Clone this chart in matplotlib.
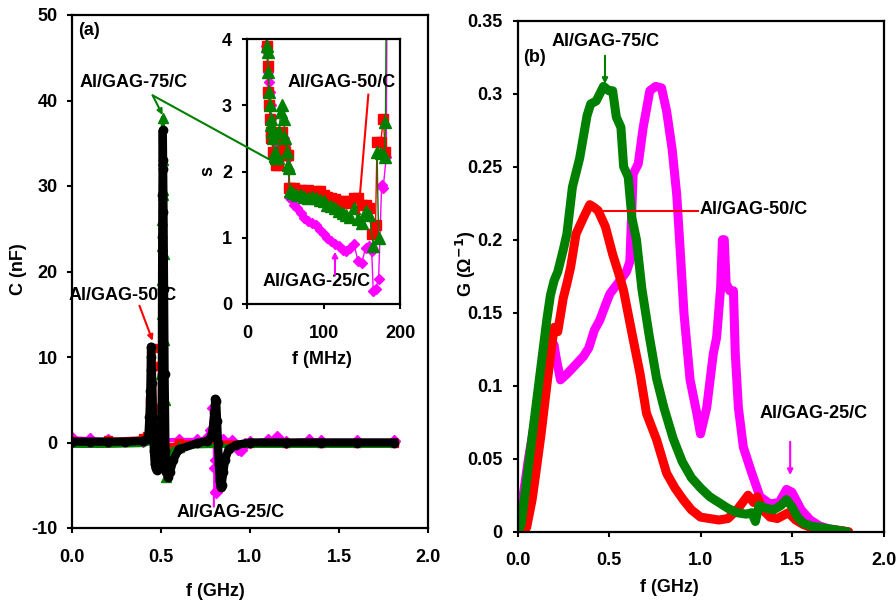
import matplotlib
matplotlib.use("Agg")
from matplotlib import pyplot as plt
from matplotlib.ticker import FuncFormatter, MultipleLocator

plt.rcParams["font.family"] = ["Liberation Sans", "DejaVu Sans"]
plt.rcParams["font.weight"] = "bold"
plt.rcParams["font.size"] = 13
plt.rcParams["axes.unicode_minus"] = False
plt.rcParams["mathtext.default"] = "bf"

RED = "#ff0000"
GREEN = "#008000"
MAGENTA = "#ff00ff"

# ---- panel (a): C (nF) vs f (GHz)
c_f_black = [0.00, 0.10, 0.20, 0.30, 0.40, 0.42, 0.43, 0.435, 0.44, 0.442, 0.444, 0.446,
             0.45, 0.455, 0.46, 0.465, 0.47, 0.48, 0.49, 0.50, 0.503, 0.505, 0.506, 0.507,
             0.508, 0.509, 0.510, 0.512, 0.514, 0.517, 0.52, 0.525, 0.53, 0.54, 0.55,
             0.57, 0.60, 0.70, 0.76, 0.78, 0.79, 0.80, 0.805, 0.81, 0.815, 0.82, 0.825,
             0.83, 0.835, 0.84, 0.85, 0.86, 0.88, 0.92, 1.00, 1.20, 1.40, 1.60, 1.81]
c_black = [0.1, 0.1, 0.1, 0.1, 0.2, 0.4, 1.0, 3.0, 6.0, 8.5, 11.2, 10.0,
           7.0, 3.0, -1.0, -2.5, -3.0, -3.2, -2.8, -2.0, 2.0, 8.0, 18.0, 24.0,
           29.0, 33.0, 36.5, 32.0, 27.0, 18.0, 8.0, -1.0, -3.5, -4.0, -3.5,
           -2.0, -0.8, -0.1, 0.2, 0.6, 1.5, 3.5, 5.1, 4.8, 2.5, 0.0, -2.5,
           -4.5, -5.2, -5.0, -3.5, -2.0, -0.8, -0.3, 0.0, 0.0, 0.0, 0.0, 0.0]

c_f_red = [0.00, 0.20, 0.40, 0.42, 0.44, 0.45, 0.455, 0.46, 0.465, 0.47, 0.475, 0.48,
           0.50, 0.55, 0.60, 0.80, 1.00, 1.20, 1.40, 1.60, 1.81]
c_red = [0.2, 0.3, 0.5, 0.8, 5.0, 9.0, 11.0, 9.0, 4.0, -1.0, -2.5, -3.0,
         -1.5, -0.5, 0.0, 0.0, 0.0, 0.0, 0.0, 0.0, 0.0]

c_f_green = [0.00, 0.20, 0.40, 0.45, 0.48, 0.49, 0.50, 0.503, 0.505, 0.506, 0.507,
             0.508, 0.509, 0.510, 0.511, 0.513, 0.515, 0.518, 0.52, 0.525, 0.53, 0.54,
             0.56, 0.60, 0.80, 1.00, 1.20, 1.40, 1.60, 1.81]
c_green = [-0.4, -0.4, -0.3, 0.0, 0.5, 2.0, 8.0, 11.5, 15.0, 19.0, 23.0,
           26.0, 29.5, 33.0, 38.0, 29.0, 22.0, 12.0, 5.0, -2.0, -4.0, -3.0,
           -1.0, -0.5, -0.4, -0.4, -0.4, -0.4, -0.4, -0.4]

c_f_mag = [0.00, 0.10, 0.20, 0.40, 0.60, 0.70, 0.76, 0.78, 0.79, 0.80, 0.805, 0.807,
           0.81, 0.82, 0.85, 0.90, 0.93, 0.95, 0.97, 1.00, 1.10, 1.15, 1.20, 1.33,
           1.40, 1.60, 1.81]
c_mag = [0.5, 0.4, 0.3, 0.2, 0.3, 0.3, 0.5, 1.5, 4.0, 1.0, -3.0, -5.8,
         -2.0, 0.0, 0.3, 0.2, -0.8, -0.9, -0.2, 0.1, 0.3, 0.6, 0.1, 0.3,
         0.2, 0.2, 0.2]

# ---- inset: s vs f (MHz)
s_f_red = [25, 26, 27, 28, 29, 30, 31, 32, 34, 36, 38, 40, 42, 44, 46, 48, 50, 52, 54,
           55, 58, 62, 66, 70, 75, 80, 85, 90, 95, 100, 105, 110, 115, 120, 125, 130,
           135, 140, 145, 150, 155, 160, 163, 168, 170, 175, 178, 181]
s_red = [4.3, 3.9, 3.6, 3.2, 3.0, 2.8, 2.6, 2.5, 2.3, 2.2, 2.1, 2.1, 2.3, 2.5, 2.6, 2.4,
         2.3, 2.25, 2.25, 1.75, 1.75, 1.75, 1.72, 1.72, 1.7, 1.72, 1.68, 1.7, 1.7, 1.65,
         1.62, 1.6, 1.58, 1.56, 1.55, 1.52, 1.55, 1.6, 1.6, 1.5, 1.5, 1.45, 1.05, 1.2,
         2.45, 2.45, 2.8, 2.3]

s_f_green = [25, 26, 27, 28, 29, 30, 31, 32, 33, 34, 36, 38, 40, 42, 44, 46, 48, 50, 52,
             54, 55, 56, 60, 65, 70, 75, 80, 85, 90, 95, 100, 105, 110, 115, 120, 125,
             130, 135, 140, 145, 150, 155, 160, 165, 172, 170, 175, 180, 181, 182]
s_green = [4.2, 3.9, 3.8, 3.5, 3.2, 3.0, 2.8, 2.7, 2.6, 2.5, 2.3, 2.2, 2.2, 2.6, 2.9, 3.0,
           2.8, 2.5, 2.3, 2.1, 2.05, 1.7, 1.68, 1.65, 1.65, 1.62, 1.6, 1.62, 1.6, 1.57,
           1.55, 1.5, 1.48, 1.45, 1.4, 1.38, 1.35, 1.32, 1.45, 1.28, 1.22, 1.4, 1.35,
           0.88, 1.0, 2.3, 2.28, 2.22, 2.75, 4.5]

s_f_mag = [24, 25, 26, 27, 28, 29, 30, 31, 32, 34, 36, 38, 40, 42, 44, 46, 48, 50, 52,
           54, 55, 58, 62, 66, 70, 75, 80, 85, 90, 95, 100, 105, 110, 115, 120, 125,
           130, 135, 140, 145, 150, 155, 160, 163, 165, 168, 172, 176, 178, 182, 183]
s_mag = [4.5, 3.9, 3.8, 3.6, 3.5, 3.35, 3.2, 3.0, 2.8, 2.5, 2.3, 2.2, 2.2, 2.4, 2.5, 2.6,
         2.5, 2.4, 2.3, 2.2, 1.62, 1.58, 1.5, 1.45, 1.38, 1.3, 1.25, 1.22, 1.2, 1.12,
         1.05, 1.0, 0.95, 0.9, 0.88, 0.82, 0.8, 0.85, 0.9, 0.65, 0.62, 0.85, 0.88, 0.8,
         0.2, 0.22, 0.38, 1.8, 1.75, 2.22, 4.5]

# ---- panel (b): G vs f (GHz)
g_f_green = [0.00, 0.02, 0.05, 0.08, 0.10, 0.13, 0.16, 0.18, 0.20, 0.22, 0.25, 0.27,
             0.30, 0.34, 0.38, 0.40, 0.43, 0.47, 0.50, 0.52, 0.54, 0.565, 0.58, 0.605,
             0.625, 0.65, 0.68, 0.72, 0.76, 0.80, 0.85, 0.90, 0.95, 1.00, 1.05, 1.10,
             1.15, 1.20, 1.25, 1.28, 1.30, 1.32, 1.36, 1.40, 1.44, 1.47, 1.50, 1.53,
             1.56, 1.60, 1.65, 1.70, 1.75, 1.80]
g_green = [0.000, 0.005, 0.035, 0.065, 0.085, 0.115, 0.145, 0.162, 0.172, 0.178, 0.193,
           0.204, 0.236, 0.256, 0.285, 0.293, 0.295, 0.305, 0.302, 0.302, 0.284, 0.277,
           0.250, 0.243, 0.215, 0.200, 0.166, 0.134, 0.105, 0.085, 0.064, 0.048, 0.037,
           0.030, 0.024, 0.020, 0.016, 0.013, 0.012, 0.013, 0.007, 0.018, 0.016, 0.015,
           0.018, 0.022, 0.017, 0.010, 0.006, 0.004, 0.003, 0.002, 0.001, 0.000]

g_f_red = [0.03, 0.05, 0.08, 0.10, 0.13, 0.16, 0.19, 0.20, 0.22, 0.25, 0.27, 0.29,
           0.32, 0.36, 0.395, 0.42, 0.44, 0.48, 0.52, 0.56, 0.58, 0.63, 0.67, 0.705,
           0.76, 0.815, 0.86, 0.905, 0.95, 1.00, 1.05, 1.10, 1.15, 1.20, 1.23, 1.26,
           1.29, 1.31, 1.34, 1.38, 1.42, 1.45, 1.48, 1.52, 1.56, 1.60, 1.65, 1.70,
           1.75, 1.81]
g_red = [0.000, 0.003, 0.022, 0.040, 0.068, 0.100, 0.130, 0.140, 0.137, 0.160, 0.170,
         0.181, 0.204, 0.215, 0.224, 0.222, 0.220, 0.209, 0.190, 0.174, 0.165, 0.133,
         0.108, 0.081, 0.063, 0.040, 0.030, 0.022, 0.015, 0.010, 0.009, 0.008, 0.009,
         0.015, 0.020, 0.025, 0.020, 0.024, 0.015, 0.010, 0.009, 0.011, 0.013, 0.008,
         0.005, 0.003, 0.002, 0.001, 0.001, 0.000]

g_f_mag = [0.00, 0.03, 0.06, 0.10, 0.14, 0.18, 0.20, 0.21, 0.235, 0.27, 0.30, 0.33,
           0.36, 0.39, 0.42, 0.45, 0.48, 0.505, 0.56, 0.595, 0.614, 0.632, 0.66, 0.687,
           0.723, 0.755, 0.787, 0.815, 0.845, 0.87, 0.888, 0.91, 0.943, 0.98, 1.00,
           1.034, 1.07, 1.088, 1.11, 1.12, 1.13, 1.14, 1.16, 1.18, 1.19, 1.207, 1.234,
           1.27, 1.30, 1.325, 1.38, 1.43, 1.47, 1.50, 1.55, 1.60, 1.65, 1.70, 1.75, 1.80]
g_mag = [0.000, 0.024, 0.050, 0.080, 0.100, 0.118, 0.128, 0.120, 0.104, 0.108, 0.112,
         0.116, 0.120, 0.126, 0.138, 0.145, 0.155, 0.163, 0.172, 0.178, 0.185, 0.245,
         0.252, 0.277, 0.302, 0.305, 0.304, 0.288, 0.262, 0.231, 0.195, 0.149, 0.104,
         0.081, 0.067, 0.085, 0.122, 0.133, 0.167, 0.200, 0.200, 0.170, 0.165, 0.165,
         0.122, 0.085, 0.058, 0.044, 0.033, 0.024, 0.019, 0.020, 0.029, 0.027, 0.015,
         0.008, 0.004, 0.002, 0.001, 0.000]

W, H = 896, 605


def fig_xy(px, py):
    return px / W, 1 - py / H


def style_axes(ax, xpad, ypad):
    for sp in ax.spines.values():
        sp.set_linewidth(1.6)
    ax.tick_params(direction="out", length=3.8, width=1.5, labelsize=13)
    ax.tick_params(axis="x", pad=xpad)
    ax.tick_params(axis="y", pad=ypad)


def arrow(ax, xy, xytext, color, **kw):
    ax.annotate("", xy=xy, xytext=xytext, **kw,
                arrowprops=dict(arrowstyle="-|>", color=color, lw=1.5, mutation_scale=8,
                                shrinkA=0, shrinkB=0))


fig = plt.figure(figsize=(W / 100, H / 100), dpi=100)

ax1 = fig.add_axes([72 / W, 1 - 528 / H, 356 / W, 513 / H])
axin = fig.add_axes([247 / W, 1 - 304 / H, 153 / W, 265 / H])
ax2 = fig.add_axes([517.5 / W, 1 - 531.7 / H, 366 / W, 511 / H])

# panel (a)
ax1.plot(c_f_mag, c_mag, color=MAGENTA, lw=3, marker="D", ms=6, mec=MAGENTA)
ax1.plot(c_f_red, c_red, color=RED, lw=3, marker="s", ms=6, mec=RED)
ax1.plot(c_f_green, c_green, color=GREEN, lw=3, marker="^", ms=7, mec=GREEN,
         markevery=slice(4, 24))
ax1.plot(c_f_black, c_black, color="black", lw=6, marker="o", ms=6, mec="black")
ax1.set_xlim(0, 2)
ax1.set_ylim(-10, 50)
ax1.xaxis.set_major_locator(MultipleLocator(0.5))
ax1.yaxis.set_major_locator(MultipleLocator(10))
ax1.xaxis.set_major_formatter(FuncFormatter(lambda v, p: "%.1f" % v))
style_axes(ax1, 11, 6.5)

ax1.text(0.033, 48.2, "(a)", ha="left", va="center")
ax1.text(0.04, 42.1, "Al/GAG-75/C", ha="left", va="center")
arrow(ax1, (0.509, 38.3), (0.453, 40.6), GREEN)
ax1.text(-0.022, 17.2, "Al/GAG-50/C", ha="left", va="center")
arrow(ax1, (0.453, 11.9), (0.379, 16.0), RED)
ax1.text(0.585, -8.14, "Al/GAG-25/C", ha="left", va="center")
arrow(ax1, (0.797, -5.2), (0.797, -7.5), MAGENTA)

# inset
axin.plot(s_f_mag, s_mag, color=MAGENTA, lw=1, marker="D", ms=5.5, mec=MAGENTA)
axin.plot(s_f_red, s_red, color=RED, lw=1, marker="s", ms=6.5, mec=RED)
axin.plot(s_f_green, s_green, color=GREEN, lw=1, marker="^", ms=8, mec=GREEN)
axin.set_xlim(0, 200)
axin.set_ylim(0, 4)
axin.xaxis.set_major_locator(MultipleLocator(100))
axin.yaxis.set_major_locator(MultipleLocator(1))
style_axes(axin, 11, 7)

axin.text(52.5, 3.35, "Al/GAG-50/C", ha="left", va="center")
axin.plot([158.6, 145.6], [3.16, 1.37], color=RED, lw=1.5)
axin.text(20, 0.337, "Al/GAG-25/C", ha="left", va="center")
arrow(axin, (115, 0.79), (115, 0.44), MAGENTA)
arrow(axin, (39, 2.12), (0.453, 40.6), GREEN, textcoords=ax1.transData)

# panel (b)
for f, g, col in [(g_f_mag, g_mag, MAGENTA), (g_f_red, g_red, RED),
                  (g_f_green, g_green, GREEN)]:
    ax2.plot(f, g, color=col, lw=6.5, solid_joinstyle="round", solid_capstyle="round")
ax2.set_xlim(0, 2)
ax2.set_ylim(0, 0.35)
ax2.xaxis.set_major_locator(MultipleLocator(0.5))
ax2.yaxis.set_major_locator(MultipleLocator(0.05))
ax2.xaxis.set_major_formatter(FuncFormatter(lambda v, p: "%.1f" % v))
ax2.yaxis.set_major_formatter(FuncFormatter(lambda v, p: "%g" % round(v, 2)))
style_axes(ax2, 11, 7)

ax2.text(0.03, 0.325, "(b)", ha="left", va="center")
ax2.text(0.188, 0.336, "Al/GAG-75/C", ha="left", va="center")
arrow(ax2, (0.478, 0.3067), (0.478, 0.326), GREEN)
ax2.text(0.997, 0.2205, "Al/GAG-50/C", ha="left", va="center")
ax2.plot([0.988, 0.468], [0.22, 0.22], color=RED, lw=1.5)
ax2.text(1.325, 0.0812, "Al/GAG-25/C", ha="left", va="center")
arrow(ax2, (1.49, 0.0388), (1.49, 0.0616), MAGENTA)

# axis labels
fig.text(*fig_xy(18.5, 269), "C (nF)", rotation=90, ha="center", va="center")
fig.text(*fig_xy(215, 592), "f (GHz)", ha="center", va="center")
fig.text(*fig_xy(322, 360), "f (MHz)", ha="center", va="center")
fig.text(*fig_xy(208, 171), "s", rotation=90, ha="center", va="center")
fig.text(*fig_xy(466, 264), "G (\u03a9$^{-1}$)", rotation=90, ha="center", va="center")
fig.text(*fig_xy(669, 588), "f (GHz)", ha="center", va="center")

plt.savefig("out.png", dpi=100)
plt.close()
